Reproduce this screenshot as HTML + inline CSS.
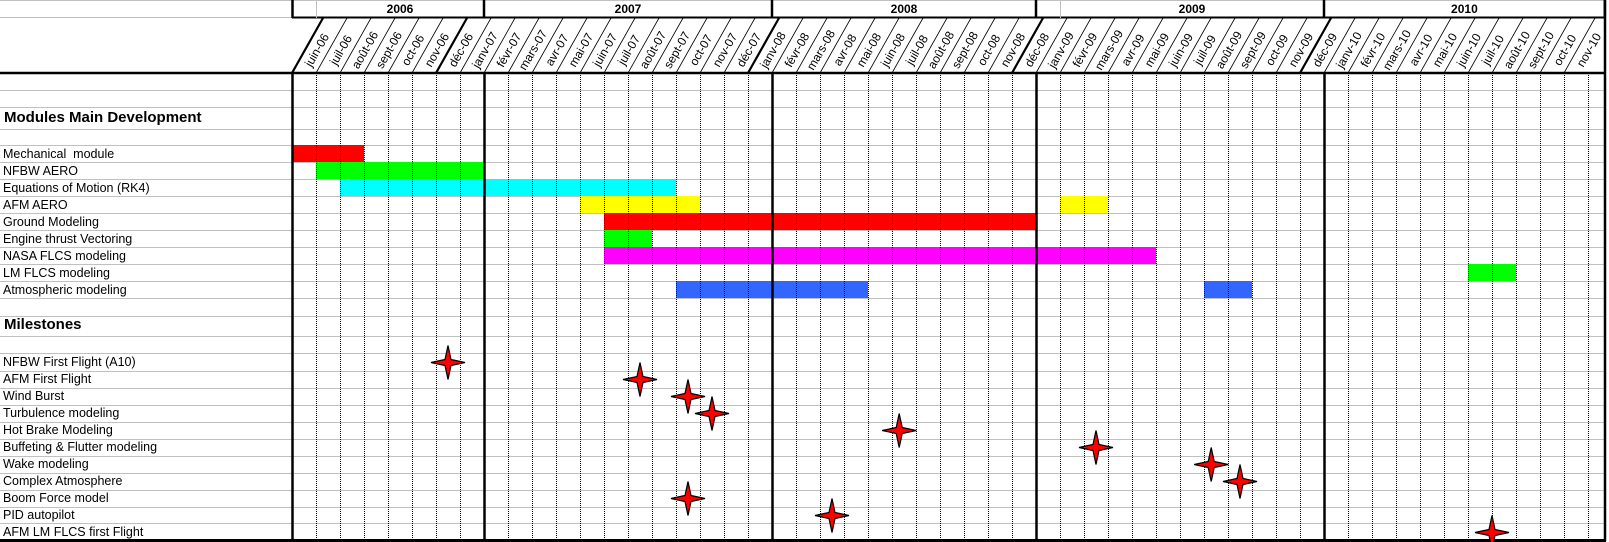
<!DOCTYPE html>
<html><head><meta charset="utf-8">
<style>
html,body{margin:0;padding:0;background:#fff;}
svg{display:block;font-family:"Liberation Sans",Arial,sans-serif;}
</style></head>
<body>
<svg id="chart" width="1609" height="542" viewBox="0 0 1609 542" xmlns="http://www.w3.org/2000/svg"></svg>
<script>
// ---- data ----
const monthLabels = ['juin-06','juil-06','août-06','sept-06','oct-06','nov-06','déc-06',
 'janv-07','févr-07','mars-07','avr-07','mai-07','juin-07','juil-07','août-07','sept-07','oct-07','nov-07','déc-07',
 'janv-08','févr-08','mars-08','avr-08','mai-08','juin-08','juil-08','août-08','sept-08','oct-08','nov-08','déc-08',
 'janv-09','févr-09','mars-09','avr-09','mai-09','juin-09','juil-09','août-09','sept-09','oct-09','nov-09','déc-09',
 'janv-10','févr-10','mars-10','avr-10','mai-10','juin-10','juil-10','août-10','sept-10','oct-10','nov-10'];
const years = ['2006','2007','2008','2009','2010'];
const yearStart = [1, 8, 20, 32, 43];
const yearEnd = [8, 20, 31, 43, 54.7];
const thickCols = [0, 8, 20, 31, 43];
const taskNames = ['Mechanical  module','NFBW AERO','Equations of Motion (RK4)','AFM AERO','Ground Modeling','Engine thrust Vectoring','NASA FLCS modeling','LM FLCS modeling','Atmospheric modeling'];
const taskColors = ['#ff0000','#00ff00','#00ffff','#ffff00','#ff0000','#00ff00','#ff00ff','#00ff00','#3366ff'];
// bar segments: [taskIndex, startCol, endCol(exclusive)]
const barTask  = [0, 1, 2, 3, 3, 4, 5, 6, 7, 8, 8];
const barStart = [0, 1, 2, 12, 32, 13, 13, 13, 49, 16, 38];
const barEnd   = [3, 8, 16, 17, 34, 31, 15, 36, 51, 24, 40];
const milestoneNames = ['NFBW First Flight (A10)','AFM First Flight','Wind Burst','Turbulence modeling','Hot Brake Modeling','Buffeting & Flutter modeling','Wake modeling','Complex Atmosphere','Boom Force model','PID autopilot','AFM LM FLCS first Flight'];
const milestoneCol = [6.5, 14.5, 16.5, 17.5, 25.3, 33.5, 38.3, 39.5, 16.5, 22.5, 50];

// ---- layout ----
const X0 = 292, CW = 24, XR = 1605;
const xk = k => X0 + k * CW;
const svg = document.getElementById('chart');
const NS = 'http://www.w3.org/2000/svg';
function mk(tag, attrs, parent){
  const e = document.createElementNS(NS, tag);
  for (const a in attrs) e.setAttribute(a, attrs[a]);
  (parent || svg).appendChild(e);
  return e;
}
const rowTops = [73, 90, 107, 129, 145, 162, 179, 196, 213, 230, 247, 264, 281, 298, 316, 336, 353, 371, 388, 405, 422, 439, 456, 473, 490, 507, 523, 540];
const taskRowTop = k => 145 + k * 17;
const msRowTop = k => 353 + k * 17;

for (const y of rowTops) {
  const l = mk('line', {x1:0, x2:XR, y1:y+0.5, y2:y+0.5, stroke:'#c0c0c0', 'stroke-width':1});
  
  
}
mk('line', {x1:0, x2:XR, y1:0.5, y2:0.5, stroke:'#c0c0c0'});
mk('line', {x1:0, x2:X0, y1:17.5, y2:17.5, stroke:'#c0c0c0'});

for (let i = 0; i < barTask.length; i++) {
  const y = taskRowTop(barTask[i]);
  const r = mk('rect', {x:xk(barStart[i]), y:y, width:xk(barEnd[i]) - xk(barStart[i]), height:17, fill:taskColors[barTask[i]]});
  
  
}

for (let k = 1; k <= 54; k++) {
  if (thickCols.includes(k)) continue;
  const l = mk('line', {x1:xk(k)+0.5, x2:xk(k)+0.5, y1:73, y2:540, stroke:'#000', 'stroke-width':1, 'stroke-dasharray':'1,1'});
  
  
}
for (const k of thickCols) {
  const l = mk('line', {x1:xk(k)+0.5, x2:xk(k)+0.5, y1:73, y2:541, stroke:'#000', 'stroke-width':2.5});
  
  
}
mk('line', {x1:XR, x2:XR, y1:0, y2:541, stroke:'#000', 'stroke-width':2.5});
mk('line', {x1:0, x2:XR+1, y1:73, y2:73, stroke:'#000', 'stroke-width':2.5});
mk('line', {x1:0, x2:XR+1, y1:540.5, y2:540.5, stroke:'#000', 'stroke-width':3});

mk('line', {x1:X0, x2:XR, y1:17.5, y2:17.5, stroke:'#000', 'stroke-width':2});
mk('line', {x1:X0+0.5, x2:X0+0.5, y1:0, y2:18, stroke:'#000', 'stroke-width':2.5});
mk('line', {x1:316.5, x2:316.5, y1:0, y2:18, stroke:'#c0c0c0'});
mk('line', {x1:1060.5, x2:1060.5, y1:0, y2:18, stroke:'#c0c0c0'});
for (let i = 0; i < years.length; i++) {
  const xs = xk(yearStart[i]), xe = Math.min(xk(yearEnd[i]), XR);
  mk('line', {x1:xe, x2:xe, y1:0, y2:18, stroke:'#000', 'stroke-width':2.5});
  const t = mk('text', {x:(xs+xe)/2, y:13, 'text-anchor':'middle', 'font-size':12, 'font-weight':'bold', fill:'#000'});
  t.textContent = years[i];
  
  
}

const DX = 31;
for (let k = 0; k <= 53; k++) {
  const thick = (k === 0 || k === 6 || k === 19 || k === 30 || k === 42);
  mk('line', {x1:xk(k), y1:73, x2:xk(k)+DX, y2:18, stroke:'#000', 'stroke-width': thick ? 2.2 : 0.8});
}
for (let k = 0; k < monthLabels.length; k++) {
  const cy = 50, cx = xk(k) + DX * (73 - cy) / 55 + 12;
  const t = mk('text', {x:cx, y:cy+4, 'text-anchor':'middle', 'font-size':12, fill:'#000', transform:`rotate(-60 ${cx} ${cy})`});
  t.textContent = monthLabels[k];
  
  
}

const h1 = mk('text', {x:4, y:122, 'font-size':15, 'font-weight':'bold', fill:'#000'});
h1.textContent = 'Modules Main Development';


const h2 = mk('text', {x:4, y:329, 'font-size':15, 'font-weight':'bold', fill:'#000'});
h2.textContent = 'Milestones';



for (let i = 0; i < taskNames.length; i++) {
  const t = mk('text', {x:3, y:taskRowTop(i)+13, 'font-size':12.5, fill:'#000'});
  t.style.whiteSpace = 'pre';
  t.textContent = taskNames[i];
  
  
}
for (let i = 0; i < milestoneNames.length; i++) {
  const t = mk('text', {x:3, y:msRowTop(i)+13, 'font-size':12.5, fill:'#000'});
  t.textContent = milestoneNames[i];
  
  
}
for (let i = 0; i < milestoneCol.length; i++) {
  const cx = xk(milestoneCol[i]), cy = msRowTop(i) + 9.5;
  const pts = [[0,-17],[3,-3],[17,0],[3,3],[0,17],[-3,3],[-17,0],[-3,-3]].map(p => (cx+p[0])+','+(cy+p[1])).join(' ');
  const s = mk('polygon', {points:pts, fill:'#ff0000', stroke:'#000', 'stroke-width':1.2, 'stroke-linejoin':'miter'});
  
  
}
</script>
</body></html>
